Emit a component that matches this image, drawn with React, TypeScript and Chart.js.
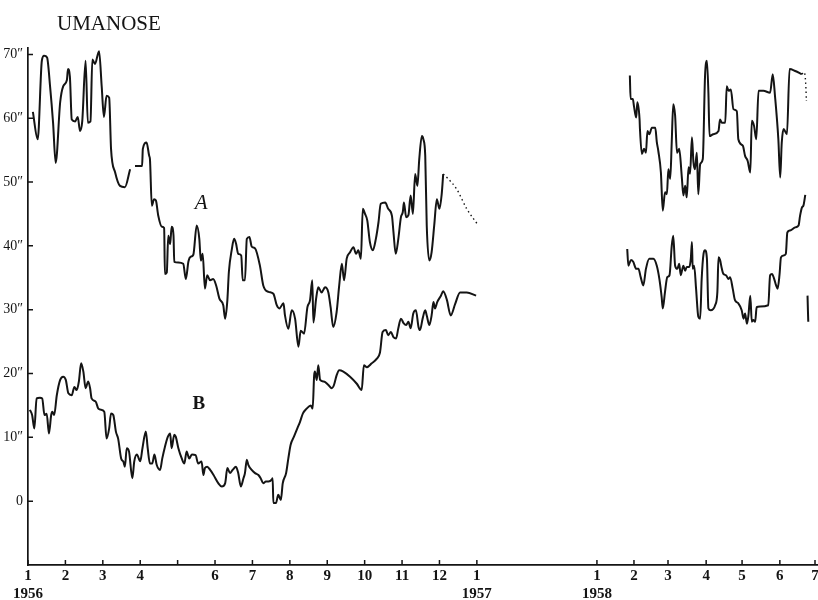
import { useEffect, useRef } from 'react';
import { Chart, registerables } from 'chart.js';

Chart.register(...registerables);

const INK = '#141414';
const SERIF = '"Liberation Serif", "DejaVu Serif", serif';
const TITLE = 'UMANOSE';

// x unit: months on the plotted (broken) time axis, 0 = 1 Jan 1956
const xTickValues = [0, 1, 2, 3, 4, 5, 6, 7, 8, 9, 10, 11, 12, 15.21, 16.2, 17.11, 18.13, 19.09, 20.1, 21.04];
const xTickLabels: (string | string[])[] = [
  ['1', '1956'], '2', '3', '4', '', '6', '7', '8', '9', '10', '11', '12', ['1', '1957'],
  ['1', '1958'], '2', '3', '4', '5', '6', '7',
];
const yTickValues = [0, 10, 20, 30, 40, 50, 60, 70];
const yTickLabels = ['0', '10″', '20″', '30″', '40″', '50″', '60″', '70″'];

const seriesA1956a: [number, number][] = [
  [0.13, 61], [0.26, 56.7], [0.37, 69], [0.43, 69.8], [0.51, 69.5], [0.59, 65], [0.67, 59.3], [0.74, 53],
  [0.86, 62.5], [0.94, 65], [1.04, 66], [1.07, 67.7], [1.12, 66.5], [1.17, 59.8], [1.26, 59.5], [1.33, 60.2],
  [1.39, 58], [1.45, 59.5], [1.54, 69], [1.6, 59.3], [1.67, 59.5], [1.72, 69.2], [1.79, 68.5], [1.9, 70.5],
  [1.97, 65], [2.03, 60.2], [2.1, 63.5], [2.17, 63.2], [2.22, 55.2], [2.33, 51.5], [2.46, 49.4], [2.59, 49.2],
  [2.73, 52],
];
const seriesA1956b: [number, number][] = [
  [2.86, 52.5], [3.05, 52.5], [3.07, 55.2], [3.17, 56.2], [3.24, 54.1], [3.26, 53.6], [3.31, 46.3], [3.37, 47.3],
  [3.42, 47.1], [3.48, 44.8], [3.58, 43], [3.64, 42.8], [3.66, 35.6], [3.71, 35.8], [3.75, 41.6], [3.8, 40.3],
  [3.84, 43], [3.89, 41.6], [3.91, 37.5], [4.02, 37.4], [4.15, 37.2], [4.22, 34.8], [4.29, 37.6], [4.35, 38.3],
  [4.42, 38.6], [4.51, 43.2], [4.58, 41.1], [4.62, 37.7], [4.67, 38.75], [4.73, 33.3], [4.79, 35.4], [4.87, 34.6],
  [4.95, 34.8], [5.03, 33.8], [5.12, 31.7], [5.22, 30.7], [5.27, 28.6], [5.33, 31.5], [5.37, 35.9], [5.45, 39.5],
  [5.51, 41.1], [5.56, 40.4], [5.62, 38.75], [5.7, 38.5], [5.74, 34.6], [5.8, 34.6], [5.85, 41.1], [5.92, 41.4],
  [5.98, 39.9], [6.07, 39.6], [6.2, 36.9], [6.29, 33.8], [6.43, 32.8], [6.56, 32.5], [6.65, 30.7], [6.72, 30.2],
  [6.83, 31], [6.87, 29.1], [6.96, 27], [7.05, 29.9], [7.14, 28.6], [7.23, 24.2], [7.29, 26.7], [7.38, 26.25],
  [7.47, 30.4], [7.54, 31.5], [7.6, 34.6], [7.63, 28], [7.7, 31.6], [7.76, 33.5], [7.85, 32.7], [7.94, 33.5],
  [8.03, 32.7], [8.09, 30.4], [8.16, 27.3], [8.25, 29.6], [8.32, 33.8], [8.39, 37.2], [8.45, 34.6], [8.52, 38],
  [8.61, 39], [8.7, 39.8], [8.77, 38.75], [8.83, 39.3], [8.9, 38], [8.95, 45.8], [9.01, 45], [9.07, 44],
  [9.14, 40.6], [9.22, 39.3], [9.3, 41.1], [9.37, 43.7], [9.43, 46.6], [9.55, 46.8], [9.63, 45.8], [9.73, 44.7],
  [9.77, 42.2], [9.83, 38.75], [9.9, 41.1], [9.97, 44.5], [10.02, 45.3], [10.05, 46.8], [10.11, 44.5], [10.17, 44.8],
  [10.23, 47.9], [10.29, 45], [10.35, 51.25], [10.41, 49.4], [10.46, 53.6], [10.53, 57.2], [10.57, 56.7], [10.62, 54.1],
  [10.66, 43.2], [10.73, 37.7], [10.79, 39], [10.86, 43.2], [10.93, 47.3], [11.0, 45.8], [11.06, 48.1], [11.1, 51.25],
];
const seriesA1956dotted: [number, number][] = [
  [11.1, 51.25], [11.2, 50.7], [11.46, 48.9], [11.73, 45.8], [12.04, 43.2],
];
const seriesB1956: [number, number][] = [
  [0.05, 14.3], [0.11, 13.5], [0.17, 11.4], [0.23, 16.1], [0.32, 16.2], [0.38, 16.1], [0.44, 13.5], [0.5, 13.7],
  [0.56, 10.6], [0.62, 13.5], [0.65, 14], [0.7, 13.5], [0.77, 16.6], [0.86, 19], [0.94, 19.5], [1.01, 19],
  [1.08, 16.9], [1.17, 16.6], [1.24, 17.9], [1.3, 17.4], [1.36, 18.75], [1.42, 21.6], [1.48, 20.3], [1.54, 17.7],
  [1.61, 18.75], [1.66, 17.7], [1.7, 16.1], [1.81, 15.6], [1.88, 14.5], [1.97, 14.3], [2.04, 14], [2.1, 9.8],
  [2.17, 11.4], [2.22, 13.75], [2.28, 13.5], [2.35, 10.9], [2.41, 9.8], [2.49, 6.7], [2.55, 6.2], [2.59, 5.4],
  [2.64, 8.3], [2.7, 7.8], [2.79, 3.6], [2.84, 6.2], [2.91, 7.3], [3.0, 6.25], [3.06, 8.3], [3.15, 10.9],
  [3.2, 8.3], [3.26, 5.9], [3.32, 5.9], [3.38, 7.3], [3.44, 5.7], [3.53, 4.9], [3.59, 6.7], [3.66, 8.5],
  [3.74, 10.1], [3.8, 10.6], [3.84, 8.3], [3.91, 10.4], [3.95, 10.1], [4.02, 8.3], [4.11, 6.7], [4.18, 5.9],
  [4.24, 7.8], [4.31, 6.7], [4.38, 7.3], [4.48, 7.2], [4.55, 5.9], [4.64, 6.2], [4.69, 4.1], [4.73, 5.2],
  [4.79, 5.4], [4.87, 4.9], [4.96, 4.1], [5.09, 2.8], [5.18, 2.3], [5.27, 2.8], [5.33, 5.2], [5.4, 4.4],
  [5.47, 4.9], [5.56, 5.4], [5.62, 4.4], [5.69, 2.3], [5.76, 3.6], [5.8, 4.4], [5.85, 6.5], [5.89, 5.7],
  [5.98, 4.9], [6.07, 4.4], [6.16, 4.1], [6.22, 3.6], [6.29, 2.8], [6.36, 3.1], [6.43, 3.1], [6.52, 3.4],
  [6.54, 3.6], [6.56, -0.3], [6.63, -0.3], [6.69, 1], [6.76, 0.2], [6.81, 2.8], [6.9, 4.4], [6.96, 6.7],
  [7.02, 8.8], [7.11, 10.1], [7.2, 11.4], [7.27, 12.4], [7.35, 13.75], [7.45, 14.5], [7.56, 15], [7.61, 14.5],
  [7.65, 19.7], [7.67, 20.3], [7.72, 19], [7.76, 21.3], [7.81, 19], [7.91, 18.75], [8.03, 18.2], [8.12, 17.7],
  [8.18, 18.2], [8.25, 19.7], [8.32, 20.5], [8.43, 20.3], [8.61, 19.5], [8.79, 18.4], [8.92, 17.4], [8.98, 21.3],
  [9.06, 21], [9.19, 21.6], [9.32, 22.3], [9.41, 23.3], [9.48, 26.5], [9.57, 26.8], [9.63, 26], [9.7, 26.5],
  [9.77, 25.7], [9.84, 25.5], [9.9, 27.1], [9.97, 28.6], [10.04, 27.9], [10.11, 27.6], [10.17, 28.1], [10.23, 27.1],
  [10.3, 29.4], [10.37, 29.9], [10.44, 27.3], [10.48, 26.8], [10.55, 28.6], [10.62, 29.9], [10.66, 29.1], [10.73, 27.6],
  [10.79, 29.1], [10.84, 31.2], [10.88, 30.2], [10.94, 31.2], [11.04, 32.2], [11.1, 32.9], [11.2, 31.5], [11.3, 29.1],
  [11.42, 30.9], [11.55, 32.7], [11.73, 32.7], [11.98, 32.2],
];
const seriesA1958: [number, number][] = [
  [16.09, 66.7], [16.11, 63], [16.17, 63], [16.2, 61.9], [16.26, 60.1], [16.29, 62.5], [16.35, 59.8], [16.36, 58.3],
  [16.41, 54.4], [16.47, 55.2], [16.52, 54.6], [16.56, 58], [16.61, 57.5], [16.68, 58.5], [16.77, 58.5], [16.81, 56.3],
  [16.85, 54.9], [16.92, 51.5], [16.97, 45.5], [17.03, 48.4], [17.08, 48.1], [17.12, 52], [17.17, 50.5], [17.21, 56.3],
  [17.25, 62.2], [17.3, 60.4], [17.35, 54.6], [17.41, 55.2], [17.48, 50.7], [17.52, 47.9], [17.57, 49.4], [17.61, 47.6],
  [17.66, 52.3], [17.7, 51.3], [17.75, 57], [17.79, 53.1], [17.83, 52], [17.88, 54.6], [17.92, 48.1], [17.97, 52.8],
  [18.04, 53.6], [18.1, 66.6], [18.15, 69], [18.19, 64], [18.22, 57.2], [18.32, 57.5], [18.46, 58], [18.5, 59.8],
  [18.55, 59.3], [18.64, 59.3], [18.68, 65], [18.73, 64.3], [18.79, 64.5], [18.86, 61.4], [18.95, 61.1], [18.99, 56.7],
  [19.11, 55.7], [19.17, 54.1], [19.24, 53.3], [19.31, 51.5], [19.35, 59.6], [19.41, 58.8], [19.47, 56.7], [19.53, 64.3],
  [19.66, 64.3], [19.84, 64], [19.91, 66.9], [19.97, 63.5], [20.06, 56.7], [20.11, 50.7], [20.15, 56.1], [20.2, 58.3],
  [20.29, 57.5], [20.36, 67.7], [20.51, 67.4], [20.69, 66.9],
];
const seriesA1958dotted: [number, number][] = [
  [20.69, 66.9], [20.75, 67.2], [20.79, 65.6], [20.81, 62.7],
];
const seriesB1958: [number, number][] = [
  [16.02, 39.5], [16.05, 36.9], [16.12, 37.8], [16.18, 37.5], [16.26, 36.4], [16.32, 36.4], [16.38, 35.1], [16.45, 33.8],
  [16.52, 36.4], [16.61, 38], [16.72, 38], [16.81, 36.9], [16.88, 34.8], [16.94, 32], [16.97, 30.2], [17.03, 32.8],
  [17.09, 35.1], [17.15, 35.4], [17.21, 40], [17.25, 41.6], [17.3, 36.9], [17.36, 36.4], [17.41, 37.2], [17.45, 35.4],
  [17.52, 36.9], [17.57, 36.1], [17.61, 36.7], [17.68, 36.7], [17.72, 38], [17.75, 40.6], [17.77, 36.4], [17.81, 36.9],
  [17.86, 33.3], [17.92, 28.9], [17.97, 28.6], [18.01, 34.8], [18.06, 38.75], [18.1, 39.3], [18.15, 38], [18.19, 30.2],
  [18.25, 29.9], [18.37, 30.7], [18.43, 32.8], [18.46, 38.2], [18.5, 37.8], [18.55, 36.4], [18.59, 35.6], [18.66, 35.4],
  [18.73, 34.8], [18.77, 35.1], [18.84, 33.3], [18.9, 31.5], [18.99, 31], [19.08, 29.9], [19.13, 28.6], [19.17, 29.4],
  [19.22, 27.8], [19.26, 29.1], [19.31, 32.2], [19.35, 28.1], [19.39, 28.4], [19.44, 28.1], [19.48, 30.4], [19.57, 30.5],
  [19.79, 30.7], [19.84, 35.4], [19.89, 35.6], [19.95, 34.8], [20.0, 33.8], [20.04, 33.3], [20.09, 35.4], [20.13, 38.2],
  [20.2, 38.5], [20.26, 38.75], [20.3, 42.1], [20.37, 42.4], [20.51, 42.9], [20.6, 43.2], [20.64, 44.7], [20.69, 46],
  [20.73, 46.3], [20.78, 48],
];
const seriesB1958tail: [number, number][] = [
  [20.84, 32.2], [20.85, 30], [20.86, 28.1],
];

const seriesLabels = [
  { text: 'A', x: 4.63, y: 46.7, font: `italic 21px ${SERIF}` },
  { text: 'B', x: 4.57, y: 15.2, font: `bold 19px ${SERIF}` },
];

const toPts = (arr: [number, number][]) => arr.map(([x, y]) => ({ x, y }));

const decorPlugin = {
  id: 'decor',
  afterDraw(chart: any) {
    const { ctx, chartArea, scales } = chart;
    const xs = scales.x;
    const ys = scales.y;
    ctx.save();
    ctx.strokeStyle = INK;
    ctx.lineWidth = 1.5;
    ctx.beginPath();
    xs.ticks.forEach((t: any) => {
      const px = xs.getPixelForValue(t.value);
      ctx.moveTo(px, chartArea.bottom);
      ctx.lineTo(px, chartArea.bottom - 5);
    });
    ys.ticks.forEach((t: any) => {
      const py = ys.getPixelForValue(t.value);
      ctx.moveTo(chartArea.left, py);
      ctx.lineTo(chartArea.left + 5, py);
    });
    ctx.stroke();

    ctx.fillStyle = INK;
    ctx.textAlign = 'left';
    ctx.textBaseline = 'alphabetic';
    ctx.font = `21px ${SERIF}`;
    ctx.fillText(TITLE, 57, 30);

    ctx.textAlign = 'center';
    ctx.textBaseline = 'middle';
    seriesLabels.forEach((l) => {
      ctx.font = l.font;
      ctx.fillText(l.text, xs.getPixelForValue(l.x), ys.getPixelForValue(l.y));
    });
    ctx.restore();
  },
};

export default function App() {
  const ref = useRef<HTMLCanvasElement | null>(null);

  useEffect(() => {
    if (!ref.current) return;
    const solid = { borderColor: INK, borderWidth: 2, pointRadius: 0, fill: false, cubicInterpolationMode: 'monotone' as const };
    const dotted = { ...solid, borderWidth: 1.4, borderDash: [1.5, 3] };
    const chart = new Chart(ref.current, {
      type: 'line',
      data: {
        datasets: [
          { ...solid, data: toPts(seriesA1956a) },
          { ...solid, data: toPts(seriesA1956b) },
          { ...dotted, data: toPts(seriesA1956dotted) },
          { ...solid, data: toPts(seriesB1956) },
          { ...solid, data: toPts(seriesA1958) },
          { ...dotted, data: toPts(seriesA1958dotted) },
          { ...solid, data: toPts(seriesB1958) },
          { ...solid, data: toPts(seriesB1958tail) },
        ] as any,
      },
      options: {
        responsive: false,
        animation: false,
        events: [],
        layout: { padding: { top: 48, left: 0, right: 0, bottom: 0 } },
        plugins: { legend: { display: false }, tooltip: { enabled: false }, title: { display: false } },
        scales: {
          x: {
            type: 'linear',
            min: 0,
            max: 21.12,
            grid: { display: false, drawTicks: false },
            border: { display: true, color: INK, width: 1.7 },
            afterBuildTicks: (scale: any) => {
              scale.ticks = xTickValues.map((v) => ({ value: v }));
            },
            afterFit: (scale: any) => {
              scale.height = 35;
              scale.paddingLeft = 0;
              scale.paddingRight = 0;
            },
            ticks: {
              autoSkip: false,
              maxRotation: 0,
              minRotation: 0,
              padding: 2,
              color: INK,
              font: { family: SERIF, size: 15, weight: 'bold', lineHeight: 1.2 },
              callback: (_v: any, i: number) => xTickLabels[i],
            },
          },
          y: {
            type: 'linear',
            min: -10,
            max: 71,
            grid: { display: false, drawTicks: false },
            border: { display: true, color: INK, width: 1.7 },
            afterBuildTicks: (scale: any) => {
              scale.ticks = yTickValues.map((v) => ({ value: v }));
            },
            afterFit: (scale: any) => {
              scale.width = 28;
              scale.paddingTop = 0;
              scale.paddingBottom = 0;
            },
            ticks: {
              autoSkip: false,
              padding: 5,
              color: INK,
              font: { family: SERIF, size: 14 },
              callback: (_v: any, i: number) => yTickLabels[i],
            },
          },
        },
      },
      plugins: [decorPlugin],
    });
    return () => chart.destroy();
  }, []);

  return (
    <div style={{ position: 'absolute', left: 0, top: 0, width: 818, height: 600, background: '#fff' }}>
      <canvas ref={ref} width={818} height={600} />
    </div>
  );
}
